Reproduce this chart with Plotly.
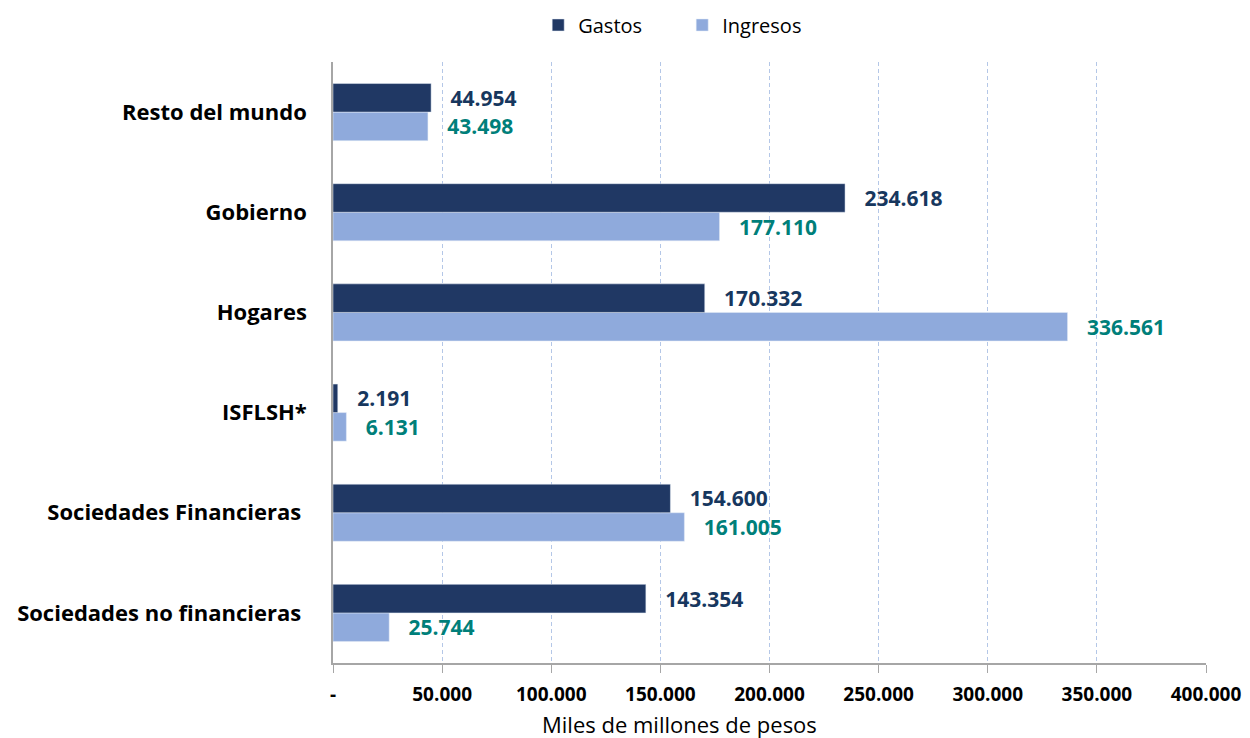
import plotly.graph_objects as go

categories = ["Sociedades no financieras ", "Sociedades Financieras ", "ISFLSH*", "Hogares", "Gobierno", "Resto del mundo"]
gastos = [143354, 154600, 2191, 170332, 234618, 44954]
ingresos = [25744, 161005, 6131, 336561, 177110, 43498]
tick_vals = [0, 50000, 100000, 150000, 200000, 250000, 300000, 350000, 400000]
tick_text = ["-", "50.000", "100.000", "150.000", "200.000", "250.000", "300.000", "350.000", "400.000"]
axis_title = "Miles de millones de pesos"

def fmt(v):
    return "\u00a0\u00a0\u00a0" + f"{v:,}".replace(",", ".")

fig = go.Figure()
fig.add_trace(go.Bar(
    y=categories, x=ingresos, name="Ingresos", orientation="h",
    marker=dict(color="#8FAADC"),
    text=[fmt(v) for v in ingresos], textposition="outside",
    textfont=dict(family="Open Sans", size=21, color="#007F7A", weight="bold"),
    cliponaxis=False, legendrank=2,
))
fig.add_trace(go.Bar(
    y=categories, x=gastos, name="Gastos", orientation="h",
    marker=dict(color="#203864"),
    text=[fmt(v) for v in gastos], textposition="outside",
    textfont=dict(family="Open Sans", size=21, color="#17375E", weight="bold"),
    cliponaxis=False, legendrank=1,
))

fig.update_layout(
    width=1250, height=738,
    barmode="group", bargap=0.43, bargroupgap=0,
    paper_bgcolor="white", plot_bgcolor="white",
    margin=dict(l=325, r=52, t=54, b=83, autoexpand=False),
    font=dict(family="Open Sans", color="black"),
    legend=dict(orientation="h", x=0.40, xanchor="center", y=1.0616, yanchor="middle",
                font=dict(size=20, family="Open Sans"), itemwidth=30, entrywidth=99,
                traceorder="normal"),
    annotations=[dict(text=axis_title, xref="paper", yref="paper", x=0.397, xanchor="center",
                      y=-0.1015, yanchor="middle", showarrow=False,
                      font=dict(size=22, family="Open Sans", color="black"))],
)
fig.update_xaxes(
    range=[0, 400000], tickvals=tick_vals, ticktext=tick_text,
    showgrid=True, gridcolor="#B4C7E7", griddash="4px,3px", gridwidth=1,
    showline=True, linecolor="#A6A6A6", linewidth=1.5,
    ticks="outside", ticklen=8, tickcolor="#A6A6A6",
    ticklabelstandoff=5,
    tickfont=dict(size=19, family="Open Sans", weight="bold"),
    zeroline=False,
)
fig.update_yaxes(
    showline=True, linecolor="#A6A6A6", linewidth=1.5,
    ticks="", ticklabelstandoff=20,
    tickfont=dict(size=22, family="Open Sans", weight="bold"),
    showgrid=False,
)

fig.write_html("out.html")
